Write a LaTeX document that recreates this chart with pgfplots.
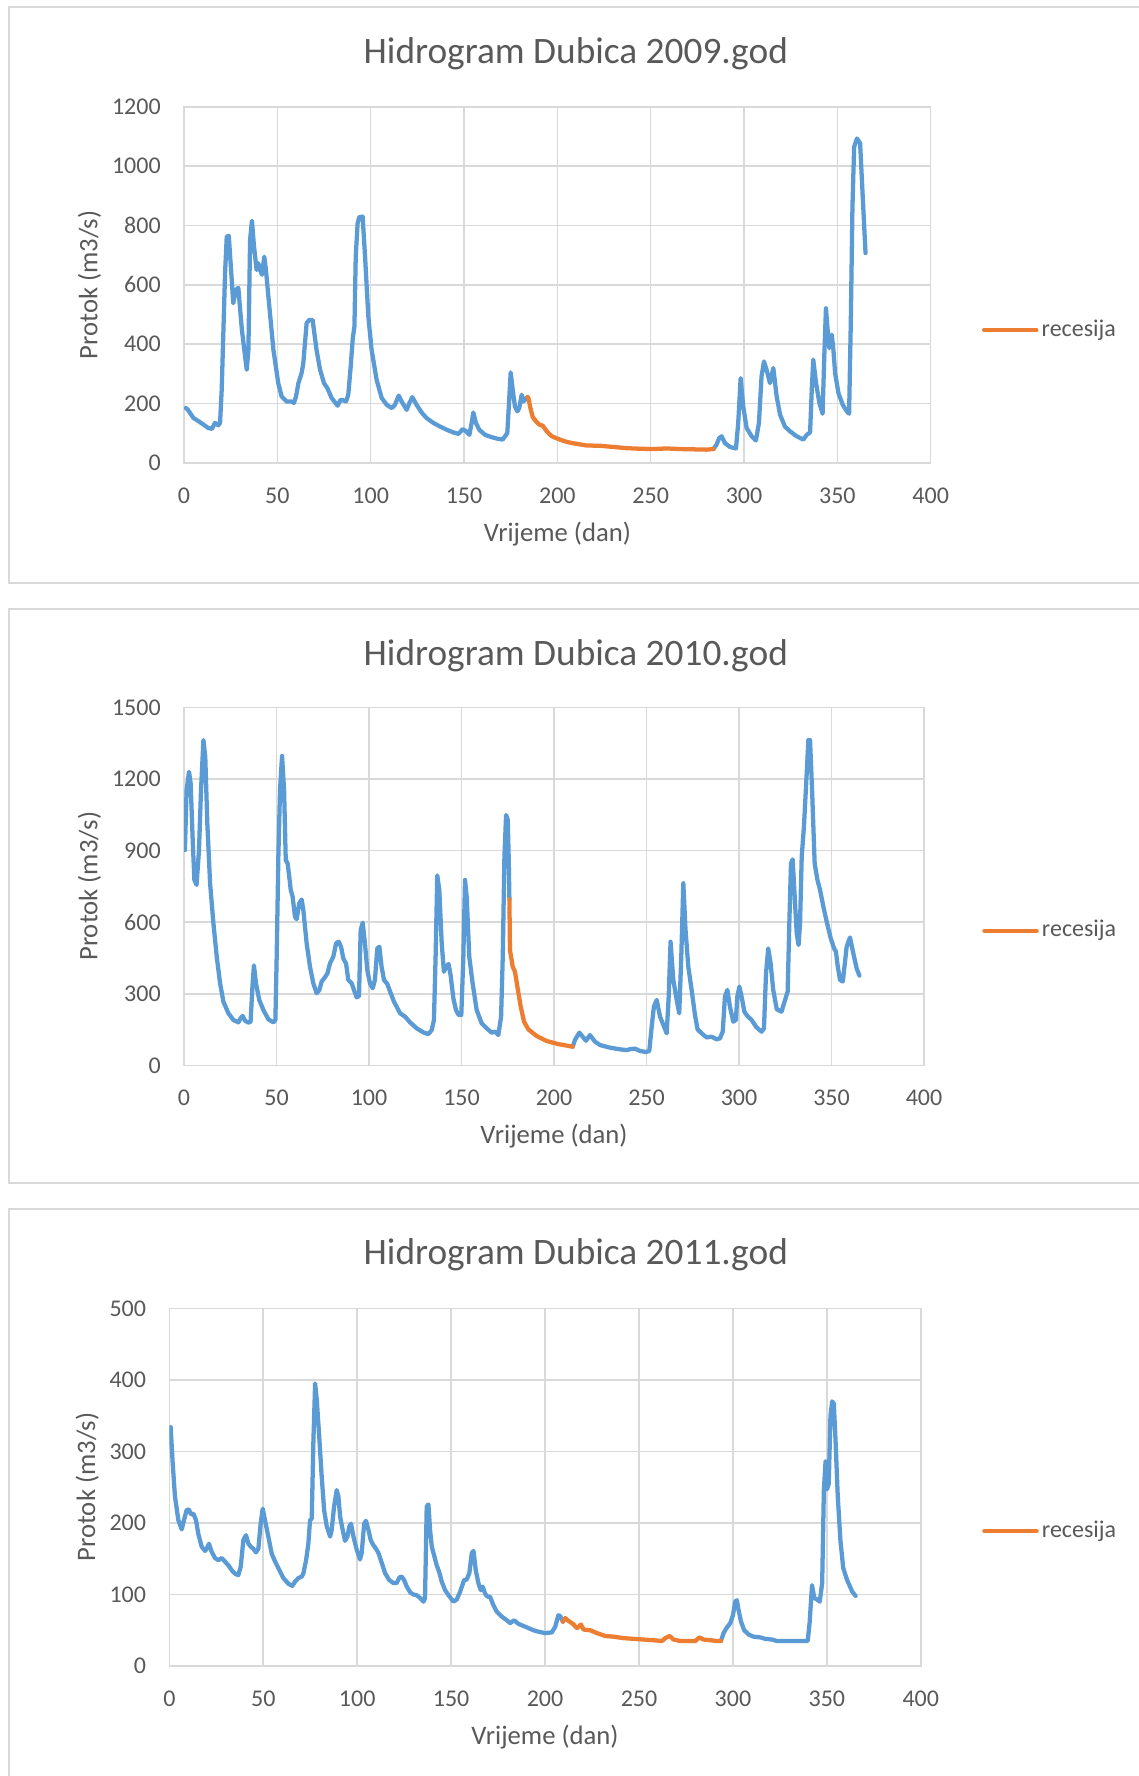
\documentclass[border=0pt]{standalone}
\usepackage{fontspec}
\setmainfont{Carlito}
\usepackage{pgfplots}
\pgfplotsset{compat=1.18}
\usepackage{pgfplotstable}
\definecolor{ink}{RGB}{89,89,89}
\definecolor{gridc}{RGB}{217,217,217}
\definecolor{xblue}{RGB}{91,155,213}
\definecolor{xorange}{RGB}{237,125,49}

% ---------- 2009 ----------
\pgfplotstableread{
x y
1 185
2 180
5 152
8 140
13 118
15 115
16.6 135
18.4 127
19.3 135
20.2 247
22 640
22.9 763
24 765
26.4 538
27.7 583
29.1 590
31 449
33.6 314
34.5 381
35.4 751
36.4 816
37.5 729
38.9 650
39.8 673
40.7 650
41.8 634
43 695
43.9 650
45.2 561
47.9 381
50.5 269
52.3 224
55 207
57.7 207
58.9 202
60 224
61.3 269
63 303
63.9 336
65.7 471
67.1 482
68.9 482
71 381
72.9 314
75 269
76.8 252
79.1 219
82.3 193
83.9 213
85.4 211
86.8 207
88 230
89.3 325
90.4 419
91.3 460
92 695
93 807
93.9 828
95.7 830
97 695
98.75 493
100.5 381
103.2 280
105.9 219
108.6 196
111.3 185
113 196
115 227
116.6 207
119.3 179
120.7 201
122.3 222
124.6 196
127.3 170
130 151
133.6 135
137.1 123
140.7 112
144.3 103
147 98
149.3 114
151.1 107
152.9 95
154.1 135
155 170
156.4 135
158.2 112
161.25 95
164.8 87
168.4 81
170.7 79
172 90
173.2 101
174.1 202
175 305
176.1 247
177.3 190
178.6 174
179.6 185
180.9 230
181.8 207
182.7 213
184 222
}\bAa
\pgfplotstableread{
x y
184 222
184.5 219
185.4 190
186.8 155
188.6 140
190.4 129
192.1 126
194.3 107
197 90
200.5 81
204 73
208 67
215.7 59
222.9 58
230 54
237.1 50
244.3 48
251.4 47
258.6 49
265.7 47
272.9 46
280 45
283.6 47
}\oA
\pgfplotstableread{
x y
283.6 47
285.3 62
286.7 84
288 90
289.8 67
292.5 54
295.7 49
296.9 135
298.2 286
299.6 190
301.4 118
304.1 90
306.4 76
308 135
309.4 292
310.7 342
312.1 314
313.9 269
315.7 320
317.5 224
319.3 163
321.9 123
324.6 107
328.2 90
331.8 79
333.6 95
335.4 103
336.3 247
337.1 348
338.6 269
340.4 202
342.1 166
343 359
343.9 521
344.8 449
345.7 387
347 432
347.9 381
348.8 303
350.6 235
352.9 196
355.1 174
356.3 166
357.2 471
358.1 864
359 1065
360.5 1093
362.2 1077
363.6 897
365.1 707
}\bAb

% ---------- 2010 ----------
\pgfplotstableread{
x y
0.5 902
1.4 1154
2.7 1230
3.6 1181
4.7 944
5.6 777
6.8 756
8.1 902
9.2 1154
10.5 1363
11.5 1293
12.6 1014
14.1 763
15.9 595
17.7 455
19.5 344
21.3 267
24 218
26.7 190
29.4 180
30.6 197
31.7 207
33 187
34.8 179
36 183
37.1 344
37.8 419
38.9 344
40.7 274
42.9 232
45.6 193
48.3 180
49.4 190
50.1 455
51 874
51.9 1154
53 1296
54.1 1154
55 860
56 846
56.9 790
57.7 735
58.7 707
60 623
60.9 612
62.3 679
63.6 695
64.5 651
66.3 511
68.1 413
69.9 344
71.7 302
73.2 316
74.4 351
76.2 369
77.5 385
78.9 427
80.7 455
82.2 511
83.6 518
84.9 497
86.1 448
87.6 427
88.8 358
90.6 344
91.9 316
93.3 285
94.6 290
95.5 567
96.6 598
97.8 511
99.1 399
100.5 344
102 323
103.2 358
104.5 490
105.6 497
106.8 413
108.1 358
109.9 341
111.4 309
113.5 267
116.8 218
119.5 204
122.2 180
125.8 155
129.4 138
132.1 131
133.9 148
135.1 190
136 455
136.9 796
138 735
139.3 511
140.5 392
141.6 413
143 425
144.1 378
145.6 281
147 232
148.5 211
149.9 211
151 455
151.9 777
152.8 707
154.2 455
156 344
158.2 232
160.9 176
163.6 155
166.3 137
168.1 141
169.9 127
171.4 204
172.3 455
173.2 874
174.1 1049
175 1028
175.5 874
175.9 695
}\bBa
\pgfplotstableread{
x y
175.9 695
176.2 483
177.7 413
178.9 392
180.2 330
182 246
183.8 183
186.1 151
190.6 123
196 102
202.3 89
206 84
210.1 78
}\oB
\pgfplotstableread{
x y
210.1 78
211.3 106
213.7 137
215.5 120
217.3 103
219.4 127
222.2 99
224.9 85
230.3 74
235.7 67
239.3 64
241.4 68
243.8 70
246.5 60
249.8 56
251.5 60
252.8 162
254 246
255.5 274
257.3 204
259.5 162
260.9 134
262 288
263 518
264.5 358
266.3 274
267.7 218
268.8 455
269.9 763
271.1 567
272.6 413
274.4 316
276.2 211
277.6 151
279.8 134
282.5 117
285.2 120
287.9 109
289.7 113
291.2 141
292.4 288
293.7 316
295.1 246
296.9 183
298.3 190
299.1 288
300.2 330
301.4 288
302.9 225
304.5 207
306.8 190
309.5 159
312.2 141
313.5 155
314.6 385
315.8 490
317.1 427
318.5 316
320.4 235
323 225
324.9 274
326.3 309
327.2 595
328.1 846
329 863
330.1 707
331.2 553
332.2 504
333 595
333.9 874
335.1 1000
336.6 1223
337.5 1363
338.4 1363
339.5 1154
340.9 846
342.4 777
343.8 735
345.6 665
347.4 602
349.6 532
351.4 490
352.4 476
353.4 413
354.6 358
356.1 351
357 413
358.2 497
360 536
361.8 469
363.6 406
365.1 376
}\bBb

% ---------- 2011 ----------
\pgfplotstableread{
x y
0.7 334
1.8 283
3 237
4.8 204
6.6 191
7.8 204
9.2 218
10.4 219
11.5 212
12.8 213
14.2 204
15.4 185
17.2 167
19 161
19.9 164
21.1 171
22.5 160
24.3 151
26.1 148
27.9 151
29.6 146
31.4 141
33.2 134
35 129
36.7 127
38 139
39.4 176
40.8 183
42.1 171
43.3 167
44.7 164
46.1 159
47.4 164
48.6 199
49.7 220
50.9 204
52.7 181
54.5 157
56.3 146
58.6 134
60.7 123
63.4 115
65.5 112
66.9 118
68.7 123
70.5 125
71.4 130
72.8 148
74 171
74.9 204
75.8 206
76.7 316
77.6 395
78.5 372
79.9 316
81.1 265
82.4 218
83.8 195
85.6 181
86.4 190
87.7 223
89.1 246
90 237
90.9 209
92.3 190
93.5 175
94.8 181
95.8 195
96.7 199
98 181
99.8 162
101.5 149
102.4 158
103.7 199
104.7 203
106 190
107.2 176
108.6 169
110 164
111.3 158
113.1 144
114.8 130
117.1 120
119.3 116
121 116
122.5 124
123.7 125
125 120
126.4 111
128.2 103
129.9 100
131.7 99
133.5 95
135.3 90
136.1 95
137 223
137.9 226
138.8 190
139.7 167
140.9 155
142.3 141
143.8 130
145 118
146.8 106
148.6 99
149.8 95
151.2 90
153 93
154.8 104
156.9 120
158.3 121
159.7 130
161 158
161.9 161
163.1 134
164.5 116
165.8 106
166.8 111
168.1 101
169.3 97
170.7 97
172.5 85
174.3 76
177 69
179.6 64
181.4 60
183.5 64
185.8 59
188.5 56
191.2 53
193.8 50
196.5 48
200 46
203.6 47
205.4 55
207.1 71
208 70
209.5 62
}\bCa
\pgfplotstableread{
x y
209.5 62
210.7 67
212.5 63
214.8 59
217 53
219.1 58
220.5 51
224.1 50
227.6 46
232.1 42
236.5 41
241.8 39
247.1 38
252.4 37
257.8 36
262.2 35
264 39
266.3 42
268.4 37
272 35
275.5 35
280 35
282.1 40
284.4 37
288 36
291.5 35
293.6 35
}\oC
\pgfplotstableread{
x y
293.6 35
295 46
296.8 54
298.6 60
300 71
301.2 90
302.1 92
303 78
304.3 62
306 50
308.4 44
311 41
314.6 40
317.2 38
320.8 37
323.4 35
330.5 35
339.8 35
340.8 60
342.1 113
343.3 95
344.8 93
346.2 90
347.5 116
348.4 246
349.3 286
350.1 247
351 255
351.9 349
352.8 370
353.7 367
354.6 316
355.8 237
357.2 176
358.7 137
360.8 120
363.5 104
365.3 98
}\bCb

\pgfplotsset{hstyle/.style={
  scale only axis, anchor=south west,
  xmin=0, xmax=400, xtick={0,50,...,400},
  grid=major, major grid style={draw=gridc, line width=0.6pt},
  axis line style={draw=gridc, line width=0.6pt},
  major tick length=0pt, tick style={draw=none},
  ticklabel style={font=\fontsize{9}{10}\selectfont, text=ink},
  /pgf/number format/assume math mode=true,
  /pgf/number format/1000 sep={},
  scaled ticks=false,
  xticklabel style={yshift=-5.7pt},
  yticklabel style={xshift=-5.2pt},
  legend image code/.code={\draw[##1] (0pt,0pt) -- (19.6pt,0pt);},
  legend style={draw=none, fill=none, anchor=west, inner sep=0pt,
    font=\fontsize{9}{10}\selectfont, text=ink,
    nodes={inner xsep=1.2pt}},
  legend cell align=left,
  every axis plot/.append style={line width=1.6pt, line join=round, line cap=round, no markers},
}}

\begin{document}
\begin{tikzpicture}[x=0.375pt, y=-0.375pt]
\path[use as bounding box, fill=white] (0,0) rectangle (1138,1776);
% frames
\draw[gridc, line width=0.75pt] (1145,7.3) -- (8.7,7.3) -- (8.7,582.7) -- (1145,582.7);
\draw[gridc, line width=0.75pt] (1145,609) -- (8.7,609) -- (8.7,1183) -- (1145,1183);
\draw[gridc, line width=0.75pt] (1145,1208.5) -- (8.7,1208.5) -- (8.7,1785);

% ---- 2009 ----
\begin{axis}[hstyle, at={(69pt,-173.625pt)}, width=280pt, height=133.6pt,
  ymin=0, ymax=1200, ytick={0,200,...,1200},
  legend style={at={(axis description cs:1.068,0.373)}}]
\addplot[xblue, forget plot] table {\bAa};
\addplot[xblue, forget plot] table {\bAb};
\addplot[xorange] table {\oA};
\addlegendentry{recesija}
\end{axis}

% ---- 2010 ----
\begin{axis}[hstyle, at={(69pt,-399.5pt)}, width=277.5pt, height=134.25pt,
  ymin=0, ymax=1500, ytick={0,300,...,1500},
  legend style={at={(axis description cs:1.078,0.376)}}]
\addplot[xblue, forget plot] table {\bBa};
\addplot[xblue, forget plot] table {\bBb};
\addplot[xorange] table {\oB};
\addlegendentry{recesija}
\end{axis}

% ---- 2011 ----
\begin{axis}[hstyle, at={(63.5pt,-624.75pt)}, width=281.8pt, height=134.1pt,
  ymin=0, ymax=500, ytick={0,100,...,500},
  legend style={at={(axis description cs:1.081,0.377)}}]
\addplot[xblue, forget plot] table {\bCa};
\addplot[xblue, forget plot] table {\bCb};
\addplot[xorange] table {\oC};
\addlegendentry{recesija}
\end{axis}

% titles and axis labels
\tikzset{ttl/.style={anchor=base, font=\fontsize{14}{16}\selectfont, text=ink},
         lbl/.style={anchor=base, font=\fontsize{10}{12}\selectfont, text=ink}}
\node[ttl] at (575.8,63.3) {Hidrogram Dubica 2009.god};
\node[ttl] at (575.8,665) {Hidrogram Dubica 2010.god};
\node[ttl] at (575.8,1264.2) {Hidrogram Dubica 2011.god};
\node[lbl] at (557.4,541) {Vrijeme (dan)};
\node[lbl] at (554,1143.3) {Vrijeme (dan)};
\node[lbl] at (545,1744) {Vrijeme (dan)};
\node[lbl, rotate=90] at (97.3,285) {Protok (m3/s)};
\node[lbl, rotate=90] at (97.3,886.3) {Protok (m3/s)};
\node[lbl, rotate=90] at (95,1487) {Protok (m3/s)};
\end{tikzpicture}
\end{document}
